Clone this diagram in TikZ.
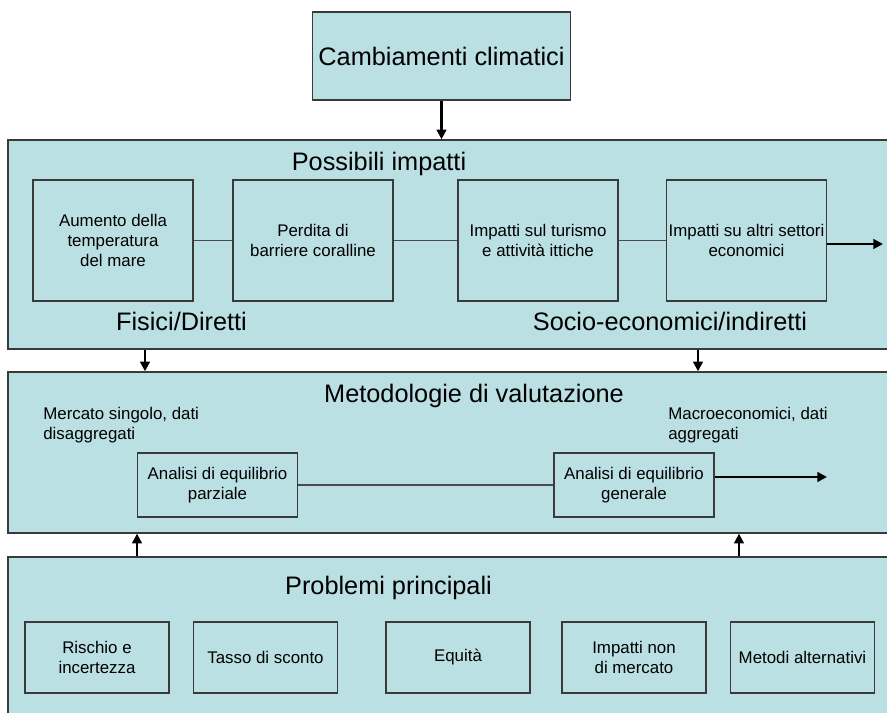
\documentclass[tikz,border=0pt]{standalone}
\usepackage{fontspec}
\setmainfont{Liberation Sans}
\usetikzlibrary{arrows.meta, positioning}
\definecolor{pnlfill}{HTML}{BBE0E3}
\definecolor{pnlline}{HTML}{3A3A3A}
\definecolor{lnkgray}{HTML}{4A4A4A}

\begin{document}
\begin{tikzpicture}[
  every node/.style={font=\fontsize{9.6}{11.4}\selectfont},
  panel/.style={rectangle, draw=pnlline, fill=pnlfill, line width=0.8pt, minimum width=17.74cm, inner sep=0pt},
  bigtext/.style={font=\fontsize{14.4}{17}\selectfont, inner sep=0pt},
  sidetext/.style={align=left, inner sep=0pt, anchor=north west},
  impbox/.style={rectangle, draw=pnlline, fill=pnlfill, line width=0.7pt, minimum width=3.2cm, minimum height=2.42cm, align=center, inner sep=1pt},
  anabox/.style={rectangle, draw=pnlline, fill=pnlfill, line width=0.7pt, minimum width=3.2cm, minimum height=1.28cm, align=center, inner sep=1pt},
  probox/.style={rectangle, draw=pnlline, fill=pnlfill, line width=0.7pt, minimum width=2.88cm, minimum height=1.42cm, align=center, inner sep=1pt},
  link/.style={draw=lnkgray, line width=0.6pt},
  flow/.style={-{Triangle[length=5.5pt, width=5.5pt]}, line width=1.3pt, black},
]
\path[use as bounding box, clip] (0,0) rectangle (17.74,14.26);

% Top: source
\node[rectangle, draw=pnlline, fill=pnlfill, line width=0.8pt, minimum width=5.14cm, minimum height=1.76cm, font=\fontsize{14.4}{17}\selectfont] (clima) at (8.83, 13.14) {Cambiamenti climatici};

% Panel 1: Possibili impatti
\node[panel, minimum height=4.18cm] (imp) at (9.03, 9.37) {};
\node[bigtext, anchor=base] (impT) at (7.58, 10.84) {Possibili impatti};

\node[impbox] (i1) at (2.26, 9.45) {Aumento della\\temperatura\\del mare};
\node[impbox] (i2) at (6.26, 9.45) {Perdita di\\barriere coralline};
\node[impbox] (i3) at (10.76, 9.45) {Impatti sul turismo\\e attività ittiche};
\node[impbox] (i4) at (14.93, 9.45) {Impatti su altri settori\\economici};
\coordinate (iout) at (17.66, 9.38);

\draw[link] (i1) -- (i2);
\draw[link] (i2) -- (i3);
\draw[link] (i3) -- (i4);
\draw[flow] (i4.east |- iout) -- (iout);

\node[bigtext, anchor=base] (fis) at (3.63, 7.65) {Fisici/Diretti};
\node[bigtext, anchor=base] (soc) at (13.4, 7.65) {Socio-economici/indiretti};

% Panel 2: Metodologie di valutazione
\node[panel, minimum height=3.22cm] (met) at (9.03, 5.21) {};
\node[bigtext, anchor=base] (metT) at (9.48, 6.2) {Metodologie di valutazione};
\node[sidetext] (mic) at (0.86, 6.13) {Mercato singolo, dati\\disaggregati};
\node[sidetext] (mac) at (13.36, 6.13) {Macroeconomici, dati\\aggregati};

\node[anabox] (par) at (4.35, 4.56) {Analisi di equilibrio\\parziale};
\node[anabox] (gen) at (12.68, 4.56) {Analisi di equilibrio\\generale};
\coordinate (mout) at (16.54, 4.72);

\draw[link] (par) -- (gen);
\draw[flow] (gen.east |- mout) -- (mout);

% Panel 3: Problemi principali
\node[panel, minimum height=3.46cm] (pro) at (9.03, 1.39) {};
\node[bigtext, anchor=base] (proT) at (7.77, 2.36) {Problemi principali};

\node[probox] (p1) at (1.94, 1.11) {Rischio e\\incertezza};
\node[probox] (p2) at (5.31, 1.11) {Tasso di sconto};
\node[probox] (p3) at (9.16, 1.11) {Equità};
\node[probox] (p4) at (12.68, 1.11) {Impatti non\\di mercato};
\node[probox] (p5) at (16.05, 1.11) {Metodi alternativi};

% arrows between panels
\coordinate (dA) at (2.9, 0);
\coordinate (dB) at (13.96, 0);
\coordinate (uA) at (2.74, 0);
\coordinate (uB) at (14.78, 0);

\draw[flow] (clima.south) -- (clima.south |- imp.north);
\draw[flow] (dA |- imp.south) -- (dA |- met.north);
\draw[flow] (dB |- imp.south) -- (dB |- met.north);
\draw[flow] (uA |- pro.north) -- (uA |- met.south);
\draw[flow] (uB |- pro.north) -- (uB |- met.south);

\end{tikzpicture}
\end{document}
